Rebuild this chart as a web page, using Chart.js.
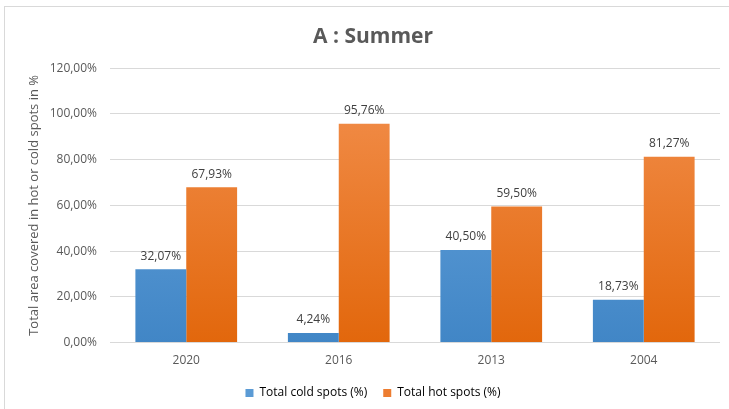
<!DOCTYPE html>
<html>
<head>
<meta charset="utf-8">
<script src="https://cdn.jsdelivr.net/npm/chart.js@4.4.0/dist/chart.umd.min.js"></script>
<style>
  html, body { margin: 0; padding: 0; background: #fff; }
  #frame { position: absolute; left: 4px; top: 6px; width: 740px; height: 420px; border: 1px solid #d9d9d9; }
  #wrap { position: absolute; left: 0; top: 0; width: 729px; height: 409px; }
</style>
</head>
<body>
<div id="frame"></div>
<div id="wrap"><canvas id="chart" width="729" height="409"></canvas></div>
<script>
const years = ['2020', '2016', '2013', '2004'];
const coldSpots = [32.07, 4.24, 40.50, 18.73];
const hotSpots = [67.93, 95.76, 59.50, 81.27];
const yTicks = [0, 20, 40, 60, 80, 100, 120];

const fmt = v => v.toFixed(2).replace('.', ',') + '%';
const FONT = "'Open Sans', 'Noto Sans', sans-serif";

// vertical fill like the office-style bars: lighter on top, deeper at the base
function fill(top, bottom) {
  return ctx => {
    const area = ctx.chart.chartArea;
    if (!area) return bottom;
    const g = ctx.chart.ctx.createLinearGradient(0, area.top, 0, area.bottom);
    g.addColorStop(0, top);
    g.addColorStop(1, bottom);
    return g;
  };
}

const valueLabels = {
  id: 'valueLabels',
  afterDatasetsDraw(chart) {
    const c = chart.ctx;
    c.save();
    c.font = '12px ' + FONT;
    c.fillStyle = '#404040';
    c.textAlign = 'center';
    c.textBaseline = 'bottom';
    chart.data.datasets.forEach((ds, i) => {
      chart.getDatasetMeta(i).data.forEach((bar, j) => {
        c.fillText(fmt(ds.data[j]), bar.x, bar.y - 7);
      });
    });
    c.restore();
  }
};

new Chart(document.getElementById('chart'), {
  type: 'bar',
  data: {
    labels: years,
    datasets: [
      { label: 'Total cold spots (%)', data: coldSpots, backgroundColor: fill('#6ba7df', '#4186c6') },
      { label: 'Total hot spots (%)', data: hotSpots, backgroundColor: fill('#f39150', '#e2670c') }
    ]
  },
  options: {
    responsive: false,
    animation: false,
    layout: { padding: { left: 26, right: 9, top: 12, bottom: 0 } },
    datasets: { bar: { categoryPercentage: 0.667, barPercentage: 1.0 } },
    plugins: {
      title: {
        display: true,
        text: 'A : Summer',
        color: '#595959',
        font: { family: FONT, size: 21, weight: 'bold' },
        padding: { top: 12, bottom: 19 }
      },
      legend: {
        position: 'bottom',
        labels: {
          color: '#595959',
          font: { family: FONT, size: 12 },
          boxWidth: 8,
          boxHeight: 8,
          padding: 16,
          generateLabels(chart) {
            const cols = ['#5b9bd5', '#ed7d31'];
            return chart.data.datasets.map((ds, i) => ({
              text: ds.label, fillStyle: cols[i], strokeStyle: cols[i], lineWidth: 0, datasetIndex: i
            }));
          }
        }
      },
      tooltip: { enabled: false }
    },
    scales: {
      x: {
        grid: { display: false },
        border: { display: false },
        ticks: { color: '#595959', font: { family: FONT, size: 12 }, padding: 3 }
      },
      y: {
        min: 0, max: 120,
        afterBuildTicks: axis => { axis.ticks = yTicks.map(v => ({ value: v })); },
        afterFit: axis => { axis.width = 84; },
        grid: { color: '#d9d9d9', drawTicks: false },
        border: { display: false },
        ticks: { color: '#595959', font: { family: FONT, size: 12 }, padding: 13, callback: v => fmt(v) },
        title: {
          display: true,
          text: 'Total area covered in hot or cold spots in %',
          color: '#595959',
          font: { family: FONT, size: 13 },
          padding: { top: 0, bottom: 4 }
        }
      }
    }
  },
  plugins: [valueLabels]
});
</script>
</body>
</html>
